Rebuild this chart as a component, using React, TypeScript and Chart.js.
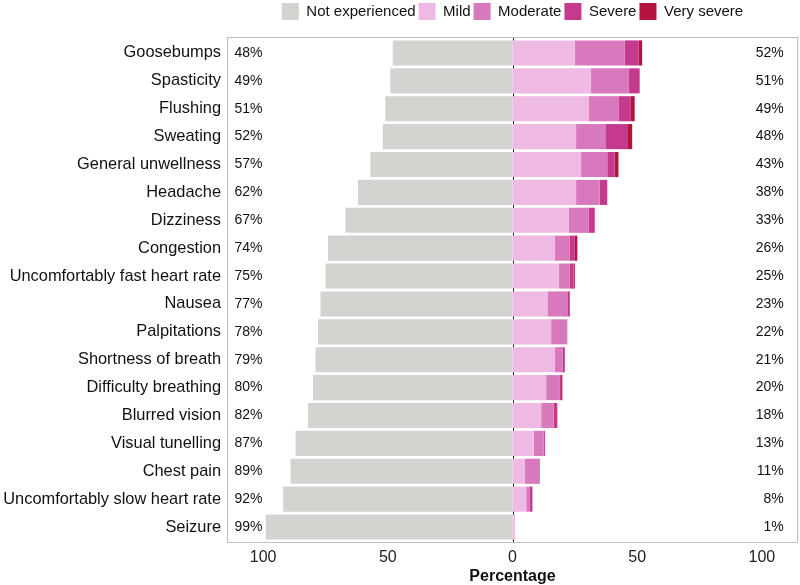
import React, { useEffect, useRef } from "react";
import { Chart, registerables } from "chart.js";

Chart.register(...registerables);

const categories = [
  "Goosebumps",
  "Spasticity",
  "Flushing",
  "Sweating",
  "General unwellness",
  "Headache",
  "Dizziness",
  "Congestion",
  "Uncomfortably fast heart rate",
  "Nausea",
  "Palpitations",
  "Shortness of breath",
  "Difficulty breathing",
  "Blurred vision",
  "Visual tunelling",
  "Chest pain",
  "Uncomfortably slow heart rate",
  "Seizure",
];
const notExperienced = [48, 49, 51, 52, 57, 62, 67, 74, 75, 77, 78, 79, 80, 82, 87, 89, 92, 99];
const mild = [25, 31.5, 30.5, 25.5, 27.5, 25.5, 22.5, 17, 18.5, 14, 15.5, 17, 13.5, 11.5, 8.5, 5, 5.5, 1];
const moderate = [20, 15, 12, 12, 10.5, 9.5, 8, 6, 4.5, 8, 6.5, 3, 5.5, 5, 4, 6, 1.5, 0];
const severe = [5.5, 4.5, 5, 8.5, 3, 3, 2.5, 2, 1.5, 1, 0, 1, 0.5, 1.5, 0.5, 0, 1, 0];
const verySevere = [1.5, 0, 1.5, 2, 1.5, 0, 0, 1, 0.5, 0, 0, 0, 0.5, 0, 0, 0, 0, 0];
const leftLabels = ["48%", "49%", "51%", "52%", "57%", "62%", "67%", "74%", "75%", "77%", "78%", "79%", "80%", "82%", "87%", "89%", "92%", "99%"];
const rightLabels = ["52%", "51%", "49%", "48%", "43%", "38%", "33%", "26%", "25%", "23%", "22%", "21%", "20%", "18%", "13%", "11%", "8%", "1%"];
const xTicks = [-100, -50, 0, 50, 100];

const FONT = "'Liberation Sans', Arial, Helvetica, sans-serif";

export default function App() {
  const ref = useRef<HTMLCanvasElement | null>(null);

  useEffect(() => {
    if (!ref.current) return;
    Chart.defaults.font.family = FONT;

    const decor = {
      id: "decor",
      beforeLayout(chart: any) {
        const lg = chart.legend;
        if (lg && !lg._patched) {
          const orig = lg.fit.bind(lg);
          lg.fit = function () {
            orig();
            this.height = 39;
          };
          lg._patched = true;
        }
      },
      afterLayout(chart: any) {
        const lg = chart.legend;
        if (lg) {
          lg.left = chart.chartArea.left;
          lg.right = chart.chartArea.right;
          lg.width = lg.right - lg.left;
        }
      },
      beforeDatasetsDraw(chart: any) {
        const { ctx, chartArea, scales } = chart;
        ctx.save();
        ctx.strokeStyle = "#bdbdbd";
        ctx.lineWidth = 1;
        const top = chartArea.top - 2;
        const bottom = chartArea.bottom + 2;
        ctx.strokeRect(
          chartArea.left + 0.5,
          top + 0.5,
          chartArea.right - chartArea.left - 1,
          bottom - top - 1
        );
        const x0 = Math.round(scales.x.getPixelForValue(0)) + 0.5;
        ctx.strokeStyle = "#222";
        ctx.beginPath();
        ctx.moveTo(x0, top + 1);
        ctx.lineTo(x0, bottom - 1);
        ctx.stroke();
        ctx.restore();
      },
      afterDatasetsDraw(chart: any) {
        const { ctx, scales } = chart;
        ctx.save();
        ctx.font = `14px ${FONT}`;
        ctx.fillStyle = "#111";
        ctx.textBaseline = "middle";
        categories.forEach((_, i) => {
          const y = scales.y.getPixelForValue(i);
          ctx.textAlign = "left";
          ctx.fillText(leftLabels[i], scales.x.getPixelForValue(-111.5), y);
          ctx.textAlign = "right";
          ctx.fillText(rightLabels[i], scales.x.getPixelForValue(108.8), y);
        });
        ctx.restore();
      },
    };

    const chart = new Chart(ref.current, {
      type: "bar",
      data: {
        labels: categories,
        datasets: [
          { label: "Not experienced", data: notExperienced.map((v) => -v), backgroundColor: "#D3D4D0" },
          { label: "Mild", data: mild, backgroundColor: "#EEBAE3" },
          { label: "Moderate", data: moderate, backgroundColor: "#D878BD" },
          { label: "Severe", data: severe, backgroundColor: "#C63A8D" },
          { label: "Very severe", data: verySevere, backgroundColor: "#B5123F" },
        ],
      },
      options: {
        indexAxis: "y",
        animation: false,
        responsive: true,
        maintainAspectRatio: false,
        layout: { padding: { left: 0, right: 2, top: 0, bottom: 0 } },
        datasets: {
          bar: { barPercentage: 0.9, categoryPercentage: 1, borderWidth: 0 },
        },
        plugins: {
          legend: {
            position: "top",
            align: "center",
            labels: {
              boxWidth: 17,
              boxHeight: 17,
              padding: 3,
              color: "#111",
              font: { size: 15, family: FONT },
            },
          },
          tooltip: { enabled: false },
          title: { display: false },
        },
        scales: {
          x: {
            stacked: true,
            min: -114.5,
            max: 114.5,
            afterBuildTicks: (scale: any) => {
              scale.ticks = xTicks.map((v) => ({ value: v }));
            },
            afterFit: (scale: any) => {
              scale.height = 44;
            },
            grid: { display: false, drawTicks: false },
            border: { display: false },
            ticks: {
              padding: 7,
              color: "#222",
              font: { size: 16, family: FONT },
              callback: (v: any) => String(Math.abs(Number(v))),
            },
            title: {
              display: true,
              text: "Percentage",
              color: "#111",
              font: { size: 16, weight: "bold", family: FONT, lineHeight: 1.1 },
              padding: { top: 0, bottom: 0 },
            },
          },
          y: {
            stacked: true,
            afterFit: (scale: any) => {
              scale.width = 227;
            },
            grid: { display: false, drawTicks: false },
            border: { display: false },
            ticks: {
              padding: 6,
              color: "#111",
              font: { size: 16.4, family: FONT },
              autoSkip: false,
            },
          },
        },
      },
      plugins: [decor],
    } as any);

    return () => chart.destroy();
  }, []);

  return (
    <div style={{ position: "fixed", left: 0, top: 0, width: 800, height: 585, background: "#fff" }}>
      <canvas ref={ref} />
    </div>
  );
}
